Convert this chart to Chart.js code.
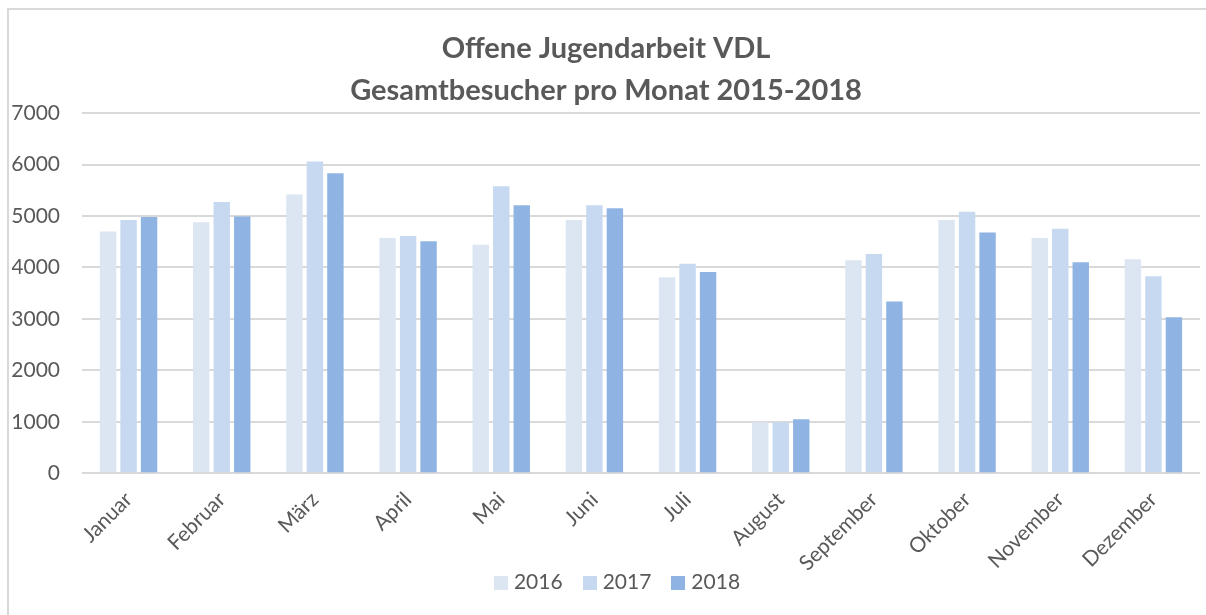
<!DOCTYPE html>
<html>
<head>
<meta charset="utf-8">
<script src="https://cdn.jsdelivr.net/npm/chart.js@4.4.0/dist/chart.umd.min.js"></script>
<style>
    html, body { margin: 0; padding: 0; background: #fff; }
    body { width: 1206px; height: 615px; overflow: hidden; position: relative; font-family: Lato, "Open Sans", sans-serif; }
    .frame { position: absolute; left: 7px; top: 8px; width: 1300px; height: 700px;
             border-left: 2px solid #d9d9d9; border-top: 2px solid #d9d9d9; }
    .wrap { position: absolute; left: 0; top: 0; width: 1206px; height: 615px; }
    .legend { position: absolute; left: 14px; width: 1206px; top: 568px; text-align: center;
              color: #595959; font-size: 21px; line-height: 26px; }
    .legend span.item { display: inline-block; margin: 0 10px; }
    .legend i { display: inline-block; width: 14px; height: 14px; margin-right: 6px; vertical-align: -1px; }
</style>
</head>
<body>
<div class="frame"></div>
<div class="wrap"><canvas id="chart"></canvas></div>
<div class="legend" id="legend"></div>
<script>
// chart data
const months = ['Januar', 'Februar', 'März', 'April', 'Mai', 'Juni', 'Juli',
    'August', 'September', 'Oktober', 'November', 'Dezember'];
const visitors2016 = [4700, 4880, 5420, 4570, 4440, 4920, 3810, 990, 4140, 4920, 4570, 4160];
const visitors2017 = [4920, 5270, 6060, 4610, 5580, 5210, 4070, 990, 4260, 5080, 4750, 3830];
const visitors2018 = [4980, 4990, 5830, 4510, 5210, 5150, 3910, 1050, 3340, 4680, 4100, 3030];
const titleLines = ['Offene Jugendarbeit VDL', 'Gesamtbesucher pro Monat 2015-2018'];

const textColor = '#595959';
const gridColor = '#d9d9d9';
const fontFamily = 'Lato, "Open Sans", sans-serif';

const ctx = document.getElementById('chart').getContext('2d');
const chart = new Chart(ctx, {
    type: 'bar',
    data: {
        labels: months,
        datasets: [
            { label: '2016', data: visitors2016, backgroundColor: '#dce6f2' },
            { label: '2017', data: visitors2017, backgroundColor: '#c6d9f0' },
            { label: '2018', data: visitors2018, backgroundColor: '#8fb4e3' }
        ]
    },
    options: {
        responsive: true,
        maintainAspectRatio: false,
        animation: false,
        layout: { padding: { left: 12, right: 6, top: 28, bottom: 33 } },
        datasets: {
            bar: { categoryPercentage: 0.66, barPercentage: 0.8 }
        },
        plugins: {
            title: {
                display: true,
                text: titleLines,
                color: textColor,
                font: { family: fontFamily, size: 29, weight: 'bold', lineHeight: 1.45 },
                padding: { top: 0, bottom: 1 }
            },
            legend: { display: false },
            tooltip: { enabled: false }
        },
        scales: {
            x: {
                grid: { display: false },
                border: { display: false },
                ticks: {
                    color: textColor,
                    font: { family: fontFamily, size: 21 },
                    minRotation: 45,
                    maxRotation: 45,
                    padding: 6
                },
                // rotated first label may hang into the y-axis area, like the original
                afterFit: scale => { scale.paddingLeft = 0; scale.paddingRight = 0; }
            },
            y: {
                min: 0,
                max: 7000,
                border: { display: false },
                grid: { color: gridColor, lineWidth: 2, drawTicks: false },
                ticks: {
                    stepSize: 1000,
                    color: textColor,
                    font: { family: fontFamily, size: 21 },
                    padding: 22,
                    callback: v => String(v)
                },
                afterFit: scale => { scale.width = 70; }
            }
        }
    }
});

// legend as html so it can sit between the rotated month labels
const legendBox = document.getElementById('legend');
chart.data.datasets.forEach(ds => {
    legendBox.innerHTML += `<span class="item"><i style="background:${ds.backgroundColor}"></i>${ds.label}</span>`;
});
</script>
</body>
</html>
